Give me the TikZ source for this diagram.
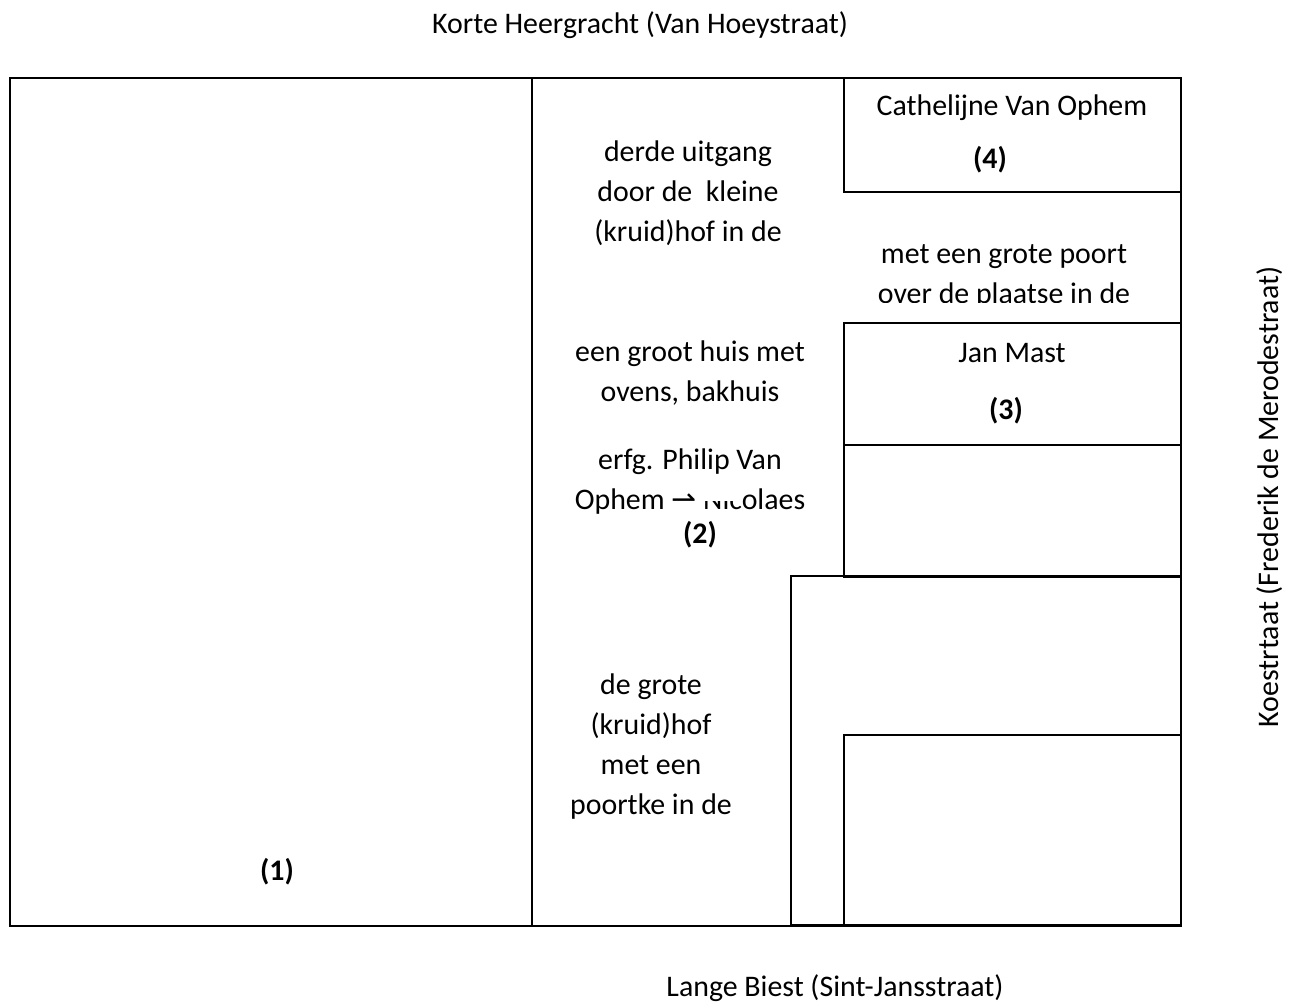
\documentclass[tikz,border=0pt]{standalone}
\usepackage{fontspec}
\setmainfont{Carlito}
\newfontfamily\dejavu{DejaVu Sans}
\begin{document}
\begin{tikzpicture}[x=0.75pt,y=-0.75pt,
  wall/.style={draw=black,line width=1.5pt},
  lbl/.style={font=\fontsize{22.4}{30}\selectfont,align=center,inner sep=0pt,text=black},
  num/.style={font=\fontsize{22.4}{30}\selectfont\bfseries,inner sep=0pt}]
\useasboundingbox[fill=white] (0,0) rectangle (1295,1003);
% plan
\draw[wall] (10,78) rectangle (1181,926);
\draw[wall] (532,78) -- (532,926);
\draw[wall] (844,78) rectangle (1181,192);
\draw[wall] (844,323) rectangle (1181,445);
\draw[wall] (844,445) rectangle (1181,577);
\draw[wall] (791,576) rectangle (1181,925);
\draw[wall] (844,735) rectangle (1181,926);
% street names
\node[lbl] (north) at (640,25) {Korte Heergracht (Van Hoeystraat)};
\node[lbl,anchor=base] (south) at (835,996) {Lange Biest (Sint-Jansstraat)};
\node[lbl,rotate=90] (east) at (1270,497) {Koestrtaat (Frederik de Merodestraat)};
% texts
\node[lbl] (t1) at (688,193) {derde uitgang\\door de\ \ kleine\\(kruid)hof in de};
\node[lbl] (t2) at (690,373) {een groot huis met\\ovens, bakhuis};
\node[lbl] (t3) at (690,482) {erfg. Philip Van\\Ophem {\dejavu ⇀} Nicolaes};
\fill[white] (700,486) rectangle (742,501);
\node[num] (n2) at (700,535) {(2)};
\node[lbl] (t4) at (651,747) {de grote\\(kruid)hof\\met een\\poortke in de};
\node[num] (n1) at (277,872) {(1)};
\node[lbl] (cath) at (1012,108) {Cathelijne Van Ophem};
\node[num] (n4) at (990,160) {(4)};
\begin{scope}
\clip (846,194) rectangle (1179,302);
\node[lbl] (t5) at (1004,276) {met een grote poort\\over de plaatse in de};
\end{scope}
\node[lbl] (jan) at (1012,353) {Jan Mast};
\node[num] (n3) at (1006,411) {(3)};
\end{tikzpicture}
\end{document}
